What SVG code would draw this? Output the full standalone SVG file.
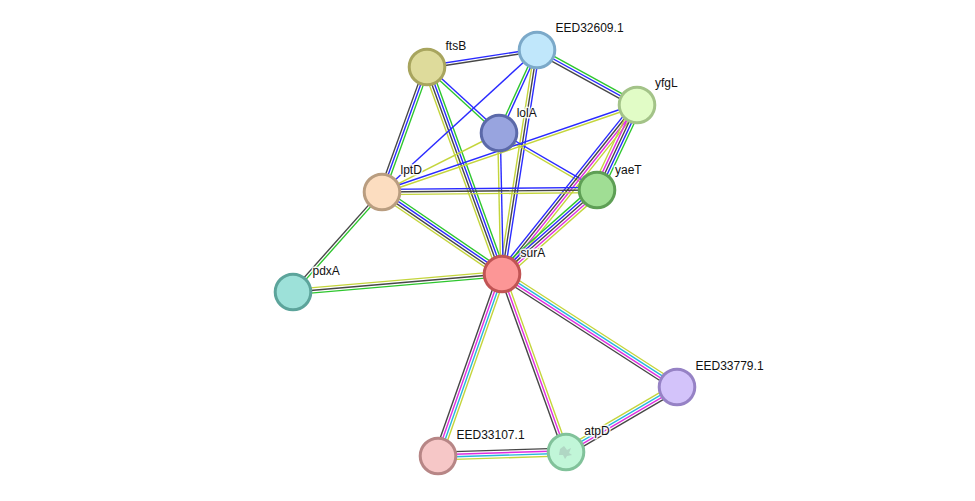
<svg xmlns="http://www.w3.org/2000/svg" width="975" height="501" viewBox="0 0 975 501">
<style>
line{stroke-width:1.4;fill:none}
.g{stroke:#2ec62e}.b{stroke:#2a2aff}.k{stroke:#474747}.m{stroke:#e02ee0}.c{stroke:#28b6de}.y{stroke:#c4d53c}
circle{stroke-width:3}
text{font-family:"Liberation Sans",Arial,sans-serif;font-size:12px;fill:#111;paint-order:stroke;stroke:#fff;stroke-width:3;stroke-opacity:0.85;stroke-linejoin:round}
</style>
<rect width="975" height="501" fill="#fff"/>
<g id="edges">
<g transform="translate(427,67) rotate(-8.78)"><line x2="111.3" y1="-1.3" y2="-1.3" class="b"/><line x2="111.3" y1="1.3" y2="1.3" class="k"/></g>
<g transform="translate(427,67) rotate(109.8)"><line x2="132.9" y1="-2.6" y2="-2.6" class="g"/><line x2="132.9" class="b"/><line x2="132.9" y1="2.6" y2="2.6" class="k"/></g>
<g transform="translate(427,67) rotate(42.5)"><line x2="97.7" y1="-1.3" y2="-1.3" class="b"/><line x2="97.7" y1="1.3" y2="1.3" class="g"/></g>
<g transform="translate(427,67) rotate(70.09)"><line x2="220.2" y1="-3.9" y2="-3.9" class="g"/><line x2="220.2" y1="-1.3" y2="-1.3" class="b"/><line x2="220.2" y1="1.3" y2="1.3" class="k"/><line x2="220.2" y1="3.9" y2="3.9" class="y"/></g>
<g transform="translate(537,50) rotate(28.81)"><line x2="114.1" y1="-2.6" y2="-2.6" class="g"/><line x2="114.1" class="b"/><line x2="114.1" y1="2.6" y2="2.6" class="k"/></g>
<g transform="translate(537,50) rotate(114.6)"><line x2="91.3" y1="-1.3" y2="-1.3" class="b"/><line x2="91.3" y1="1.3" y2="1.3" class="g"/></g>
<g transform="translate(537,50) rotate(137.5)"><line x2="210.2" class="b"/></g>
<g transform="translate(537,50) rotate(98.88)"><line x2="226.7" y1="-2.6" y2="-2.6" class="b"/><line x2="226.7" class="k"/><line x2="226.7" y1="2.6" y2="2.6" class="y"/></g>
<g transform="translate(499,133) rotate(153.24)"><line x2="131" class="y"/></g>
<g transform="translate(499,133) rotate(30.18)"><line x2="113.4" y1="-1.3" y2="-1.3" class="b"/><line x2="113.4" y1="1.3" y2="1.3" class="y"/></g>
<g transform="translate(499,133) rotate(88.78)"><line x2="141" y1="-1.3" y2="-1.3" class="b"/><line x2="141" y1="1.3" y2="1.3" class="y"/></g>
<g transform="translate(637,105) rotate(161.16)"><line x2="269.4" y1="-1.3" y2="-1.3" class="y"/><line x2="269.4" y1="1.3" y2="1.3" class="b"/></g>
<g transform="translate(637,105) rotate(128.62)"><line x2="216.3" y1="-3.9" y2="-3.9" class="y"/><line x2="216.3" y1="-1.3" y2="-1.3" class="m"/><line x2="216.3" y1="1.3" y2="1.3" class="k"/><line x2="216.3" y1="3.9" y2="3.9" class="b"/></g>
<g transform="translate(637,105) rotate(115.2)"><line x2="93.9" y1="-5.2" y2="-5.2" class="g"/><line x2="93.9" y1="-2.6" y2="-2.6" class="b"/><line x2="93.9" class="k"/><line x2="93.9" y1="2.6" y2="2.6" class="m"/><line x2="93.9" y1="5.2" y2="5.2" class="y"/></g>
<g transform="translate(382,192) rotate(-0.53)"><line x2="215" y1="-2.6" y2="-2.6" class="b"/><line x2="215" class="k"/><line x2="215" y1="2.6" y2="2.6" class="y"/></g>
<g transform="translate(382,192) rotate(34.34)"><line x2="145.3" y1="-3.9" y2="-3.9" class="g"/><line x2="145.3" y1="-1.3" y2="-1.3" class="b"/><line x2="145.3" y1="1.3" y2="1.3" class="k"/><line x2="145.3" y1="3.9" y2="3.9" class="y"/></g>
<g transform="translate(382,192) rotate(131.67)"><line x2="133.9" y1="-1.3" y2="-1.3" class="g"/><line x2="133.9" y1="1.3" y2="1.3" class="k"/></g>
<g transform="translate(597,190) rotate(138.52)"><line x2="126.8" y1="-5.2" y2="-5.2" class="y"/><line x2="126.8" y1="-2.6" y2="-2.6" class="m"/><line x2="126.8" class="k"/><line x2="126.8" y1="2.6" y2="2.6" class="b"/><line x2="126.8" y1="5.2" y2="5.2" class="g"/></g>
<g transform="translate(293,292) rotate(-4.92)"><line x2="209.8" y1="-2.6" y2="-2.6" class="y"/><line x2="209.8" class="k"/><line x2="209.8" y1="2.6" y2="2.6" class="g"/></g>
<g transform="translate(502,274) rotate(109.38)"><line x2="192.9" y1="-3.9" y2="-3.9" class="y"/><line x2="192.9" y1="-1.3" y2="-1.3" class="c"/><line x2="192.9" y1="1.3" y2="1.3" class="m"/><line x2="192.9" y1="3.9" y2="3.9" class="k"/></g>
<g transform="translate(502,274) rotate(70.22)"><line x2="189.2" y1="-2.6" y2="-2.6" class="y"/><line x2="189.2" class="m"/><line x2="189.2" y1="2.6" y2="2.6" class="k"/></g>
<g transform="translate(502,274) rotate(32.85)"><line x2="208.3" y1="-3.9" y2="-3.9" class="y"/><line x2="208.3" y1="-1.3" y2="-1.3" class="c"/><line x2="208.3" y1="1.3" y2="1.3" class="m"/><line x2="208.3" y1="3.9" y2="3.9" class="k"/></g>
<g transform="translate(438,456) rotate(-1.79)"><line x2="128.1" y1="-3.9" y2="-3.9" class="k"/><line x2="128.1" y1="-1.3" y2="-1.3" class="m"/><line x2="128.1" y1="1.3" y2="1.3" class="c"/><line x2="128.1" y1="3.9" y2="3.9" class="y"/></g>
<g transform="translate(566,452) rotate(-30.35)"><line x2="128.6" y1="-3.9" y2="-3.9" class="y"/><line x2="128.6" y1="-1.3" y2="-1.3" class="c"/><line x2="128.6" y1="1.3" y2="1.3" class="m"/><line x2="128.6" y1="3.9" y2="3.9" class="k"/></g>
</g>
<g id="ftsB"><circle cx="427" cy="67" r="17.8" fill="#dedb9b" stroke="#a8a55e"/><text x="445.5" y="49.5">ftsB</text></g>
<g id="EED32609.1"><circle cx="537" cy="50" r="17.8" fill="#c0e7fb" stroke="#7ba9c9"/><text x="555.5" y="32">EED32609.1</text></g>
<g id="yfgL"><circle cx="637" cy="105" r="17.8" fill="#e1fcc6" stroke="#a3c388"/><text x="655" y="87">yfgL</text></g>
<g id="lolA"><circle cx="499" cy="133" r="17.8" fill="#98a4df" stroke="#5b69a9"/><text x="516.7" y="116.7">lolA</text></g>
<g id="lptD"><circle cx="382" cy="192" r="17.8" fill="#fcddc0" stroke="#b99d80"/><text x="400.5" y="174">lptD</text></g>
<g id="yaeT"><circle cx="597" cy="190" r="17.8" fill="#a0de94" stroke="#5e9f55"/><text x="615" y="174">yaeT</text></g>
<g id="surA"><circle cx="502" cy="274" r="17.8" fill="#fc9696" stroke="#c15454"/><text x="520.5" y="257">surA</text></g>
<g id="pdxA"><circle cx="293" cy="292" r="17.8" fill="#9de1d9" stroke="#5ca49b"/><text x="312.5" y="274.5">pdxA</text></g>
<g id="EED33779.1"><circle cx="677" cy="387" r="17.8" fill="#d3c3fa" stroke="#9682c5"/><text x="695.5" y="369.5">EED33779.1</text></g>
<g id="atpD"><circle cx="566" cy="452" r="17.8" fill="#c1f6d8" stroke="#81c29a"/><path d="M560 449 l4 -3 l3 4 l4 -2 l-2 5 l3 2 l-5 1 l-2 3 l-2 -4 l-4 0 z" fill="#9fb8b0" opacity="0.5"/><text x="584.3" y="434.7">atpD</text></g>
<g id="EED33107.1"><circle cx="438" cy="456" r="17.8" fill="#f6c7c7" stroke="#b78686"/><text x="456.5" y="438.5">EED33107.1</text></g>
</svg>
